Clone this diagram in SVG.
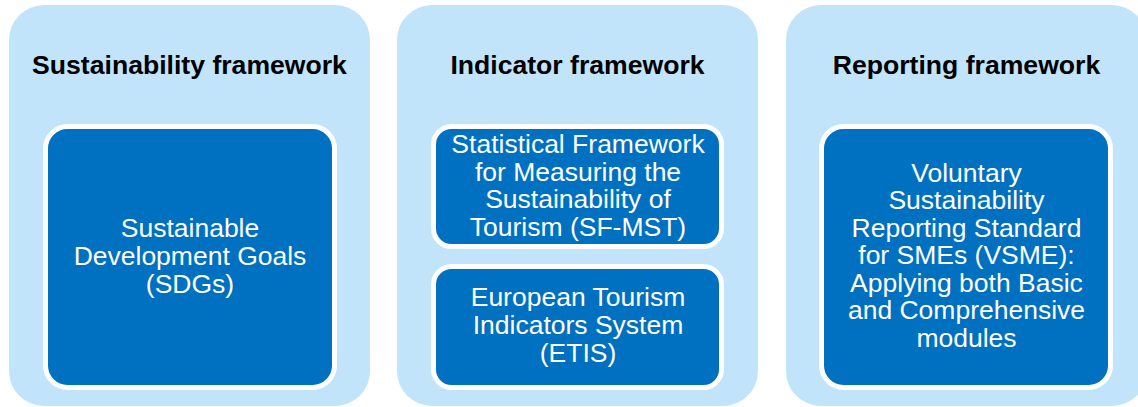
<svg xmlns="http://www.w3.org/2000/svg" width="1138" height="407" viewBox="0 0 1138 407">
  <style>
    .panel { fill: #C2E4FB; }
    .box { fill: #0070C0; stroke: #FFFFFF; stroke-width: 5; }
    .title { font-family: "Liberation Sans", Arial, sans-serif; font-size: 26.6px; font-weight: bold; fill: #000000; text-anchor: middle; }
    .label { font-family: "Liberation Sans", Arial, sans-serif; font-size: 26.5px; fill: #FFFFFF; text-anchor: middle; }
  </style>
  <rect width="1138" height="407" fill="#FFFFFF"/>

  <!-- Sustainability framework column -->
  <g id="sustainability-framework">
    <rect class="panel" x="9" y="5" width="361" height="401" rx="35"/>
    <text class="title" x="189.5" y="74">Sustainability framework</text>
  </g>
  <g id="sdgs">
    <rect class="box" x="45.5" y="126.5" width="289" height="261" rx="22"/>
    <text class="label" x="190" y="237">Sustainable</text>
    <text class="label" x="190" y="265">Development Goals</text>
    <text class="label" x="190" y="293">(SDGs)</text>
  </g>

  <!-- Indicator framework column -->
  <g id="indicator-framework">
    <rect class="panel" x="397" y="5" width="361" height="401" rx="35"/>
    <text class="title" x="577.5" y="74">Indicator framework</text>
  </g>
  <g id="sf-mst">
    <rect class="box" x="433.5" y="126.5" width="288" height="120" rx="18"/>
    <text class="label" x="578" y="153">Statistical Framework</text>
    <text class="label" x="578" y="180.5">for Measuring the</text>
    <text class="label" x="578" y="208">Sustainability of</text>
    <text class="label" x="578" y="236">Tourism (SF-MST)</text>
  </g>
  <g id="etis">
    <rect class="box" x="433.5" y="266.5" width="288" height="121" rx="18"/>
    <text class="label" x="578" y="306">European Tourism</text>
    <text class="label" x="578" y="333.5">Indicators System</text>
    <text class="label" x="578" y="361.5">(ETIS)</text>
  </g>

  <!-- Reporting framework column -->
  <g id="reporting-framework">
    <rect class="panel" x="786" y="5" width="361" height="401" rx="35"/>
    <text class="title" x="966.5" y="74">Reporting framework</text>
  </g>
  <g id="vsme">
    <rect class="box" x="821.5" y="126.5" width="289" height="261" rx="22"/>
    <text class="label" x="966.5" y="181.5">Voluntary</text>
    <text class="label" x="966.5" y="209">Sustainability</text>
    <text class="label" x="966.5" y="236.5">Reporting Standard</text>
    <text class="label" x="966.5" y="263.5">for SMEs (VSME):</text>
    <text class="label" x="966.5" y="291.5">Applying both Basic</text>
    <text class="label" x="966.5" y="319">and Comprehensive</text>
    <text class="label" x="966.5" y="346.5">modules</text>
  </g>

  <!-- no connectors between the columns -->
  <g id="connectors"/>
</svg>
